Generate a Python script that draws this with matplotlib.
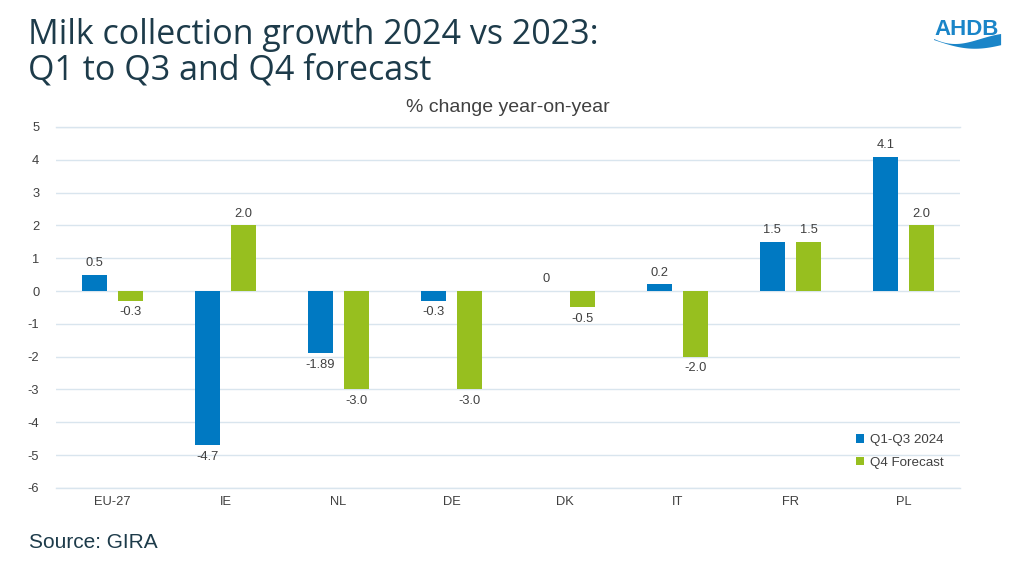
import matplotlib
matplotlib.use("Agg")
import matplotlib.pyplot as plt
import numpy as np
from matplotlib.patches import Polygon

categories = ["EU-27", "IE", "NL", "DE", "DK", "IT", "FR", "PL"]
q1q3 = [0.5, -4.7, -1.89, -0.3, 0.0, 0.2, 1.5, 4.1]
q4 = [-0.3, 2.0, -3.0, -3.0, -0.5, -2.0, 1.5, 2.0]
q1q3_labels = ["0.5", "-4.7", "-1.89", "-0.3", "0", "0.2", "1.5", "4.1"]
q4_labels = ["-0.3", "2.0", "-3.0", "-3.0", "-0.5", "-2.0", "1.5", "2.0"]
yticks = [5, 4, 3, 2, 1, 0, -1, -2, -3, -4, -5, -6]
series_names = ["Q1-Q3 2024", "Q4 Forecast"]

BLUE = "#0079C2"
GREEN = "#97BF1F"
GRID = "#D9E5EE"
TXT = "#404040"
TITLE = "#1D3B4A"
LOGO = "#1A85C8"

plt.rcParams["font.family"] = ["Liberation Sans", "DejaVu Sans"]

fig = plt.figure(figsize=(10.31, 5.72), dpi=100)
ax = fig.add_axes([0.0543, 0.147, 0.8767, 0.631])

x = np.arange(len(categories))
w = 0.22
off = 0.16
b1 = ax.bar(x - off, q1q3, w, color=BLUE, label=series_names[0], zorder=3)
b2 = ax.bar(x + off, q4, w, color=GREEN, label=series_names[1], zorder=3)

for bars, labs, vals in ((b1, q1q3_labels, q1q3), (b2, q4_labels, q4)):
    for rect, lab, v in zip(bars, labs, vals):
        cx = rect.get_x() + rect.get_width() / 2
        if v > 0 or lab == "0":
            ax.annotate(lab, (cx, v), xytext=(0, 4), textcoords="offset points",
                        ha="center", va="bottom", fontsize=9.3, color=TXT)
        else:
            ax.annotate(lab, (cx, v), xytext=(0, -4), textcoords="offset points",
                        ha="center", va="top", fontsize=9.3, color=TXT)

ax.set_xlim(-0.5, len(categories) - 0.5)
ax.set_ylim(-6, 5)
ax.set_yticks(yticks)
ax.set_yticklabels([str(t) for t in yticks])
ax.set_xticks(x)
ax.set_xticklabels(categories)
ax.tick_params(axis="both", length=0, labelsize=9.3, colors=TXT)
ax.tick_params(axis="y", pad=12)
ax.tick_params(axis="x", pad=6)
ax.grid(axis="y", color=GRID, linewidth=1, zorder=0)
for t in (5, -6):
    ax.axhline(t, color=GRID, linewidth=1, zorder=0, clip_on=False)
for s in ax.spines.values():
    s.set_visible(False)

leg = ax.legend(loc="lower right", bbox_to_anchor=(0.995, 0.02), frameon=False,
                fontsize=9.6, handlelength=0.6, handleheight=0.6, handletextpad=0.4,
                labelspacing=0.8, labelcolor=TXT)

ax.set_title("% change year-on-year", fontsize=14, color=TXT, pad=11)

fig.text(0.027, 0.968, "Milk collection growth 2024 vs 2023:\nQ1 to Q3 and Q4 forecast",
         fontsize=24.5, color=TITLE, family=["Open Sans", "DejaVu Sans"],
         va="top", ha="left", linespacing=1.05)
fig.text(0.028, 0.052, "Source: GIRA", fontsize=15, color=TITLE, va="center", ha="left")

# AHDB logo
fig.text(0.9375, 0.949, "AHDB", fontsize=16, color=LOGO, weight="bold",
         ha="center", va="center", family=["Liberation Sans", "DejaVu Sans"])
t = np.linspace(0, 1, 80)
xs = 0.906 + 0.065 * t
top_px = 39 + 6 * np.sin(np.pi * t) * (1 - t) * 1.6 - 5 * t ** 2
bot_px = 40 + 7 * np.sin(np.pi * t * 0.9) + 3 * t
top = 1 - top_px / 572
bot = 1 - bot_px / 572
pts = np.concatenate([np.column_stack([xs, top]), np.column_stack([xs[::-1], bot[::-1]])])
fig.patches.append(Polygon(pts, closed=True, transform=fig.transFigure,
                           facecolor=LOGO, edgecolor="none"))

fig.savefig("out.png", dpi=100)
